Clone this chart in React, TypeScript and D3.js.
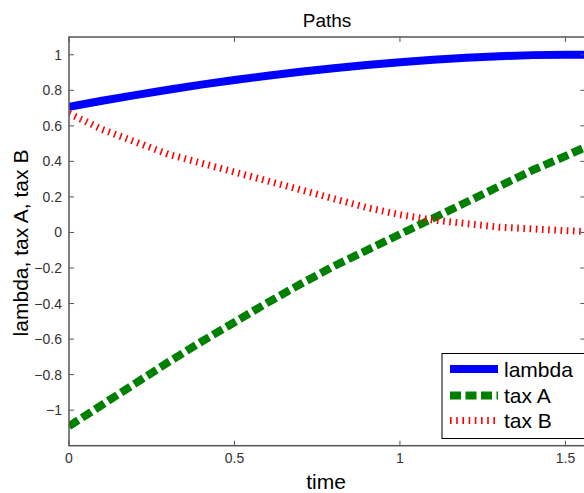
import React, { useRef, useEffect } from "react";
import * as d3 from "d3";

const time = [0, 0.1, 0.2, 0.3, 0.4, 0.5, 0.6, 0.7, 0.8, 0.9, 1.0, 1.1, 1.2, 1.3, 1.4, 1.5, 1.56];
const lambda = [0.707, 0.741, 0.773, 0.803, 0.832, 0.858, 0.882, 0.904, 0.924, 0.942, 0.958, 0.972, 0.983, 0.992, 0.998, 1.0, 1.0];
const taxA = [-1.09, -0.97, -0.85, -0.73, -0.615, -0.505, -0.395, -0.29, -0.19, -0.1, -0.01, 0.08, 0.17, 0.26, 0.35, 0.43, 0.48];
const taxB = [0.67, 0.58, 0.51, 0.44, 0.39, 0.34, 0.29, 0.24, 0.19, 0.14, 0.1, 0.07, 0.05, 0.03, 0.02, 0.01, 0.005];
const seriesNames = ["lambda", "tax A", "tax B"];
const xTicks = [0, 0.5, 1, 1.5];
const yTicks = [-1, -0.8, -0.6, -0.4, -0.2, 0, 0.2, 0.4, 0.6, 0.8, 1];

const FONT = "'Liberation Sans', Arial, Helvetica, sans-serif";

const App = () => {
  const ref = useRef<SVGSVGElement>(null);
  const width = 584;
  const height = 493;

  useEffect(() => {
    const svg = d3.select(ref.current);
    svg.selectAll("*").remove();

    const left = 69, right = 585.3, top = 37, bottom = 445.7;

    const x = d3.scaleLinear().domain([0, 1.56]).range([left, right]);
    const y = d3.scaleLinear().domain([-1.2, 1.1]).range([bottom, top]);

    const fmt = (d: number) => {
      const s = String(Math.round(Math.abs(d) * 10) / 10);
      return d < 0 ? "\u2212" + s : s;
    };

    svg.append("rect").attr("width", width).attr("height", height).attr("fill", "#fff");

    svg.append("clipPath").attr("id", "plot-clip")
      .append("rect")
      .attr("x", left).attr("y", top)
      .attr("width", right - left).attr("height", bottom - top);

    const styles = [
      { values: lambda, color: "#0000ff", width: 8, dash: null as string | null },
      { values: taxA, color: "#008000", width: 8, dash: "11,4.5" },
      { values: taxB, color: "#ff0000", width: 7, dash: "1.6,4.6" },
    ];

    const line = d3.line<[number, number]>().x((d) => x(d[0])).y((d) => y(d[1]));

    const plot = svg.append("g").attr("clip-path", "url(#plot-clip)");
    styles.forEach((s) => {
      const pts = time.map((t, i) => [t, s.values[i]] as [number, number]);
      plot.append("path")
        .attr("d", line(pts))
        .attr("fill", "none")
        .attr("stroke", s.color)
        .attr("stroke-width", s.width)
        .attr("stroke-dasharray", s.dash)
        .attr("stroke-linecap", "butt")
        .attr("stroke-linejoin", "round");
    });

    // axes box
    const axisColor = "#555";
    svg.append("rect")
      .attr("x", left).attr("y", top)
      .attr("width", right - left).attr("height", bottom - top)
      .attr("fill", "none").attr("stroke", axisColor).attr("stroke-width", 1.5);

    const tl = 5;
    xTicks.forEach((t) => {
      svg.append("line").attr("x1", x(t)).attr("x2", x(t)).attr("y1", bottom).attr("y2", bottom - tl).attr("stroke", axisColor);
      svg.append("line").attr("x1", x(t)).attr("x2", x(t)).attr("y1", top).attr("y2", top + tl).attr("stroke", axisColor);
      svg.append("text")
        .attr("x", x(t)).attr("y", 463)
        .attr("text-anchor", "middle")
        .attr("font-family", FONT).attr("font-size", 14).attr("fill", "#333")
        .text(fmt(t));
    });
    yTicks.forEach((t) => {
      svg.append("line").attr("x1", left).attr("x2", left + tl).attr("y1", y(t)).attr("y2", y(t)).attr("stroke", axisColor);
      svg.append("line").attr("x1", right).attr("x2", right - tl).attr("y1", y(t)).attr("y2", y(t)).attr("stroke", axisColor);
      svg.append("text")
        .attr("x", 62).attr("y", y(t) + 5)
        .attr("text-anchor", "end")
        .attr("font-family", FONT).attr("font-size", 14).attr("fill", "#333")
        .text(fmt(t));
    });

    svg.append("text")
      .attr("x", 327).attr("y", 27)
      .attr("text-anchor", "middle")
      .attr("font-family", FONT).attr("font-size", 19)
      .text("Paths");

    svg.append("text")
      .attr("x", 326).attr("y", 489)
      .attr("text-anchor", "middle")
      .attr("font-family", FONT).attr("font-size", 21)
      .text("time");

    svg.append("text")
      .attr("transform", `translate(28,243) rotate(-90)`)
      .attr("text-anchor", "middle")
      .attr("font-family", FONT).attr("font-size", 21)
      .text("lambda, tax A, tax B");

    // legend
    const lg = svg.append("g");
    lg.append("rect")
      .attr("x", 442).attr("y", 353.5)
      .attr("width", 150).attr("height", 85)
      .attr("fill", "#fff").attr("stroke", "#000").attr("stroke-width", 1);
    const rowY = [369, 395.5, 420.5];
    styles.forEach((s, i) => {
      lg.append("line")
        .attr("x1", 450).attr("x2", 498)
        .attr("y1", rowY[i]).attr("y2", rowY[i])
        .attr("stroke", s.color)
        .attr("stroke-width", s.width)
        .attr("stroke-dasharray", s.dash);
      lg.append("text")
        .attr("x", 504).attr("y", rowY[i] + 7.5)
        .attr("font-family", FONT).attr("font-size", 21)
        .text(seriesNames[i]);
    });
  }, []);

  return (
    <svg
      ref={ref}
      width={width}
      height={height}
      style={{ position: "absolute", left: 0, top: 0, display: "block" }}
    ></svg>
  );
};

export default App;
